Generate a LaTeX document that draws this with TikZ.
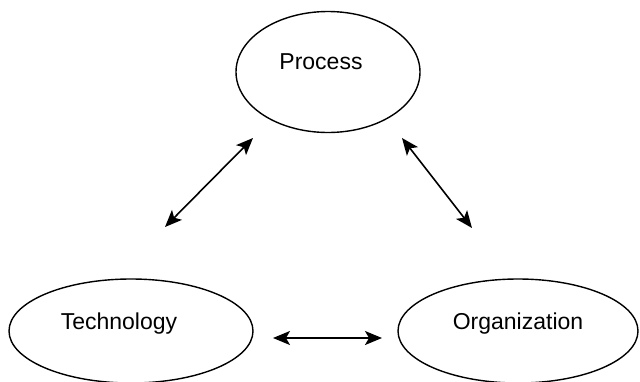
\documentclass[tikz,border=0pt]{standalone}
\usepackage{fontspec}
\setmainfont{Liberation Sans}
\usetikzlibrary{arrows.meta,shapes.geometric}

\begin{document}
\begin{tikzpicture}[x=1pt,y=-1pt,<->,>={Stealth[length=17pt,width=14pt,inset=4pt]},
  line width=1.6pt,main node/.style={ellipse,draw,line width=1.4pt,text depth=20pt,font=\fontsize{23}{27}\selectfont}]

  \useasboundingbox (0,0) rectangle (640,381);

  \node[main node, minimum width=184pt, minimum height=121pt] (process) at (328,72) {\hspace*{-14pt}Process};
  \node[main node, minimum width=244pt, minimum height=104pt] (tech) at (131,331) {\hspace*{-24pt}Technology};
  \node[main node, minimum width=240pt, minimum height=104pt] (org) at (518,331) {Organization};

  % arrow ends
  \coordinate (tp) at (165,227);
  \coordinate (pt) at (253,138);
  \coordinate (po) at (402,138);
  \coordinate (op) at (472,228);
  \coordinate (to) at (273,338);
  \coordinate (ot) at (382,338);

  \draw (tp) -- (pt);
  \draw (po) -- (op);
  \draw (to) -- (ot);

\end{tikzpicture}
\end{document}
